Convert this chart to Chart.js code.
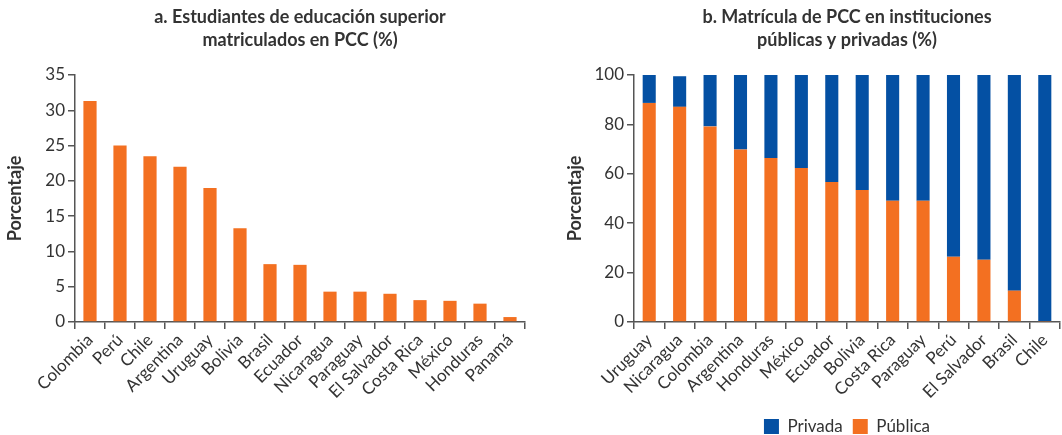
<!DOCTYPE html>
<html lang="es">
<head>
  <meta charset="UTF-8">
  <title>PCC matrícula</title>
  <style>
    body {
      margin: 0;
      background: #fff;
      overflow: hidden;
    }
    .wrap {
      position: relative;
      width: 1062px;
      height: 435px;
    }
    #chartA { position: absolute; left: 0; top: 0; }
    #chartB { position: absolute; left: 560px; top: 0; }
  </style>
</head>
<body>
  <div class="wrap">
    <canvas id="chartA" width="600" height="435"></canvas>
    <canvas id="chartB" width="574" height="435"></canvas>
  </div>

  <script src="https://cdn.jsdelivr.net/npm/chart.js"></script>
  <script>
    // panel a
    const paisesA = ['Colombia', 'Perú', 'Chile', 'Argentina', 'Uruguay', 'Bolivia', 'Brasil', 'Ecuador',
      'Nicaragua', 'Paraguay', 'El Salvador', 'Costa Rica', 'México', 'Honduras', 'Panamá'];
    const matriculados = [31.3, 25.0, 23.5, 22.0, 19.0, 13.3, 8.2, 8.1, 4.3, 4.3, 4.0, 3.1, 3.0, 2.6, 0.7];

    // panel b
    const paisesB = ['Uruguay', 'Nicaragua', 'Colombia', 'Argentina', 'Honduras', 'México', 'Ecuador',
      'Bolivia', 'Costa Rica', 'Paraguay', 'Perú', 'El Salvador', 'Brasil', 'Chile'];
    const publica = [88.7, 87.1, 79.2, 69.8, 66.4, 62.3, 56.7, 53.4, 49.1, 49.1, 26.4, 25.2, 12.7, 0.4];
    const privada = [11.3, 12.4, 20.8, 30.2, 33.6, 37.7, 43.3, 46.6, 50.9, 50.9, 73.6, 74.8, 87.3, 99.6];

    const ORANGE = '#F37021';
    const BLUE = '#0450A3';
    const TEXT = '#333333';
    const AXIS = '#555555';
    const FONT = 'Lato, "Open Sans", sans-serif';

    Chart.defaults.font.family = FONT;
    Chart.defaults.color = TEXT;

    function xAxis(h) {
      return {
        ticks: { autoSkip: false, minRotation: 45, maxRotation: 45, font: { size: 17 }, color: TEXT, padding: 1 },
        grid: { drawOnChartArea: false, drawTicks: true, tickLength: 7, color: AXIS, lineWidth: 1.5 },
        border: { color: AXIS, width: 1.5 },
        afterFit: s => { s.height = h; s.paddingLeft = 0; s.paddingRight = 0; }
      };
    }

    function yAxis(w, max, step) {
      return {
        min: 0, max: max,
        ticks: { stepSize: step, font: { size: 17 }, color: TEXT, padding: 3 },
        grid: { drawOnChartArea: false, drawTicks: true, tickLength: 7, color: AXIS, lineWidth: 1.5 },
        border: { color: AXIS, width: 1.5 },
        title: { display: true, text: 'Porcentaje', font: { size: 18, weight: 'bold' }, color: TEXT, padding: { top: 4, bottom: 4 } },
        afterFit: s => { s.width = w; s.paddingTop = 0; s.paddingBottom = 0; }
      };
    }

    // empty axis on the right so the title centres over the plot
    function spacer(w) {
      return {
        position: 'right', display: true,
        grid: { display: false }, border: { display: false }, ticks: { display: false },
        afterFit: s => { s.width = w; }
      };
    }

    function titleOpts(lines) {
      return {
        display: true, text: lines,
        font: { size: 18, weight: 'bold', lineHeight: '23px' },
        color: TEXT,
        padding: { top: 6, bottom: 23 }
      };
    }

    new Chart(document.getElementById('chartA'), {
      type: 'bar',
      data: {
        labels: paisesA,
        datasets: [{
          label: 'Porcentaje',
          data: matriculados,
          backgroundColor: ORANGE,
          categoryPercentage: 1,
          barPercentage: 0.44
        }]
      },
      options: {
        responsive: false,
        animation: false,
        layout: { padding: 0 },
        plugins: {
          legend: { display: false },
          tooltip: { enabled: false },
          title: titleOpts(['a. Estudiantes de educación superior', 'matriculados en PCC (%)'])
        },
        scales: {
          x: xAxis(113),
          y: yAxis(75, 35, 5),
          yR: spacer(75)
        }
      }
    });

    new Chart(document.getElementById('chartB'), {
      type: 'bar',
      data: {
        labels: paisesB,
        datasets: [{
          label: 'Pública',
          data: publica,
          backgroundColor: ORANGE,
          categoryPercentage: 1,
          barPercentage: 0.43
        }, {
          label: 'Privada',
          data: privada,
          backgroundColor: BLUE,
          categoryPercentage: 1,
          barPercentage: 0.43
        }]
      },
      options: {
        responsive: false,
        animation: false,
        layout: { padding: { bottom: -10 } },
        plugins: {
          legend: {
            position: 'bottom',
            reverse: true,
            labels: { font: { size: 17 }, color: TEXT, boxWidth: 15, boxHeight: 15, padding: 10 }
          },
          tooltip: { enabled: false },
          title: titleOpts(['b. Matrícula de PCC en instituciones', 'públicas y privadas (%)'])
        },
        scales: {
          x: Object.assign(xAxis(86), { stacked: true }),
          y: Object.assign(yAxis(74, 100, 20), { stacked: true }),
          yR: spacer(74)
        }
      }
    });
  </script>
</body>
</html>
